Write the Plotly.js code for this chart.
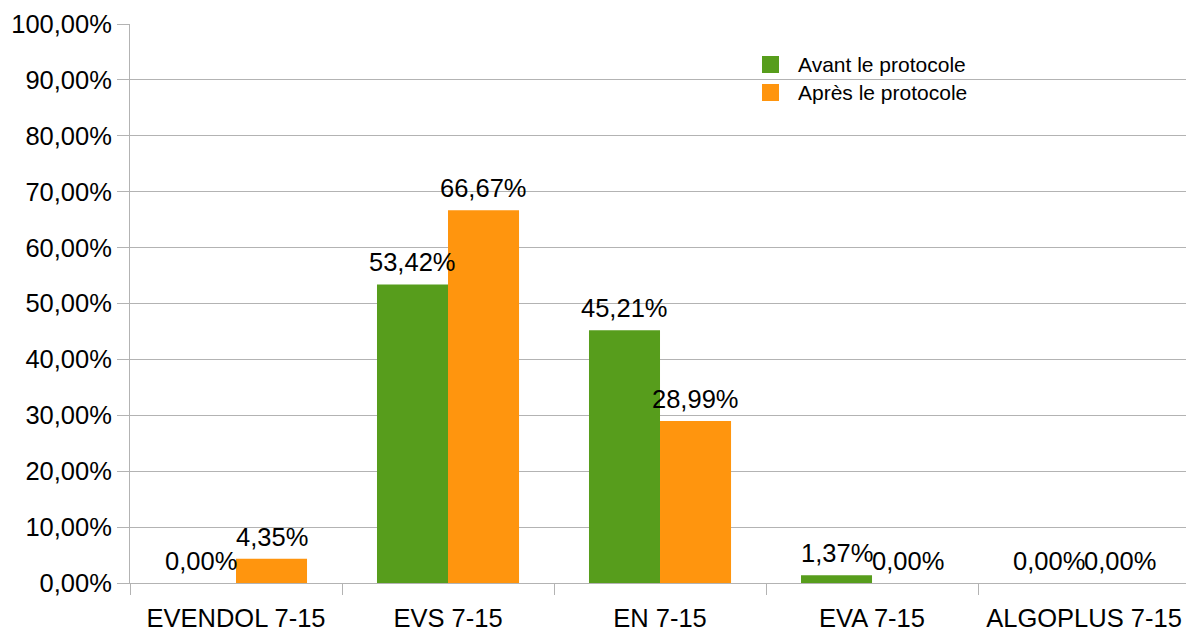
<!DOCTYPE html>
<html><head><meta charset="utf-8">
<script src="https://cdn.plot.ly/plotly-3.0.1.min.js"></script>
<style>html,body{margin:0;padding:0;overflow:hidden;background:#fff}</style>
</head><body>
<div id="chart" style="width:1186px;height:633px"></div>
<script>
const categories = ["EVENDOL 7-15", "EVS 7-15", "EN 7-15", "EVA 7-15", "ALGOPLUS 7-15"];
const avant = [0.0, 0.5342, 0.4521, 0.0137, 0.0];
const apres = [0.0435, 0.6667, 0.2899, 0.0, 0.0];
const seriesNames = ["Avant le protocole", "Après le protocole"];
const colors = ["#579d1c", "#ff950e"];
const series = [avant, apres];

const FONT = "Liberation Sans, Arial, sans-serif";
const FS = 25.5;
const fmt = v => (v * 100).toFixed(2).replace(".", ",") + "%";

const data = series.map((vals, i) => ({
  type: "bar", x: categories, y: vals, name: seriesNames[i],
  marker: {color: colors[i], line: {width: 0}},
  hoverinfo: "none", showlegend: false
}));

// value labels above bars
const annotations = [];
const offsets = [-35.5, 35.5];
series.forEach((vals, i) => {
  vals.forEach((v, j) => {
    annotations.push({
      x: categories[j], y: v, xref: "x", yref: "y", text: fmt(v),
      showarrow: false, xanchor: "center", yanchor: "bottom",
      xshift: offsets[i], yshift: 6,
      font: {family: FONT, size: FS, color: "#000"}
    });
  });
});

// custom legend (larger square swatches, as in the reference)
const shapes = [];
const legX = 762, legW = 17, legY0 = 56, legStep = 28;
const plotL = 130, plotW = 1056, plotT = 24, plotH = 559;
const px = x => (x - plotL) / plotW;
const py = y => 1 - (y - plotT) / plotH;
seriesNames.forEach((name, i) => {
  const top = legY0 + i * legStep;
  shapes.push({type: "rect", xref: "paper", yref: "paper",
    x0: px(legX), x1: px(legX + legW), y0: py(top + legW), y1: py(top),
    fillcolor: colors[i], line: {width: 0}});
  annotations.push({xref: "paper", yref: "paper", x: px(796), y: py(top + legW / 2),
    xanchor: "left", yanchor: "middle", showarrow: false, text: name,
    font: {family: FONT, size: 21, color: "#000"}});
});

const layout = {
  width: 1186, height: 633,
  margin: {l: 130, r: 0, t: 24, b: 50},
  separators: ", ",
  font: {family: FONT, size: FS, color: "#000"},
  paper_bgcolor: "#fff", plot_bgcolor: "#fff",
  barmode: "group", bargap: 0.33, bargroupgap: 0,
  showlegend: false,
  annotations: annotations, shapes: shapes,
  xaxis: {type: "category", range: [-0.5, 4.481], autorange: false,
    tickson: "boundaries", ticks: "outside", ticklen: 11, tickcolor: "#b3b3b3",
    ticklabelstandoff: 12,
    showgrid: false, showline: true, linecolor: "#b3b3b3", linewidth: 1,
    tickfont: {family: FONT, size: FS, color: "#000"}},
  yaxis: {range: [0, 1], autorange: false, dtick: 0.1, tick0: 0,
    tickformat: ".2%", ticks: "outside", ticklen: 12, tickcolor: "#b3b3b3",
    showgrid: true, gridcolor: "#b3b3b3", zeroline: false,
    showline: true, linecolor: "#b3b3b3", linewidth: 1,
    tickfont: {family: FONT, size: FS, color: "#000"}}
};
Plotly.newPlot("chart", data, layout, {displayModeBar: false, staticPlot: true});
</script>
</body></html>
